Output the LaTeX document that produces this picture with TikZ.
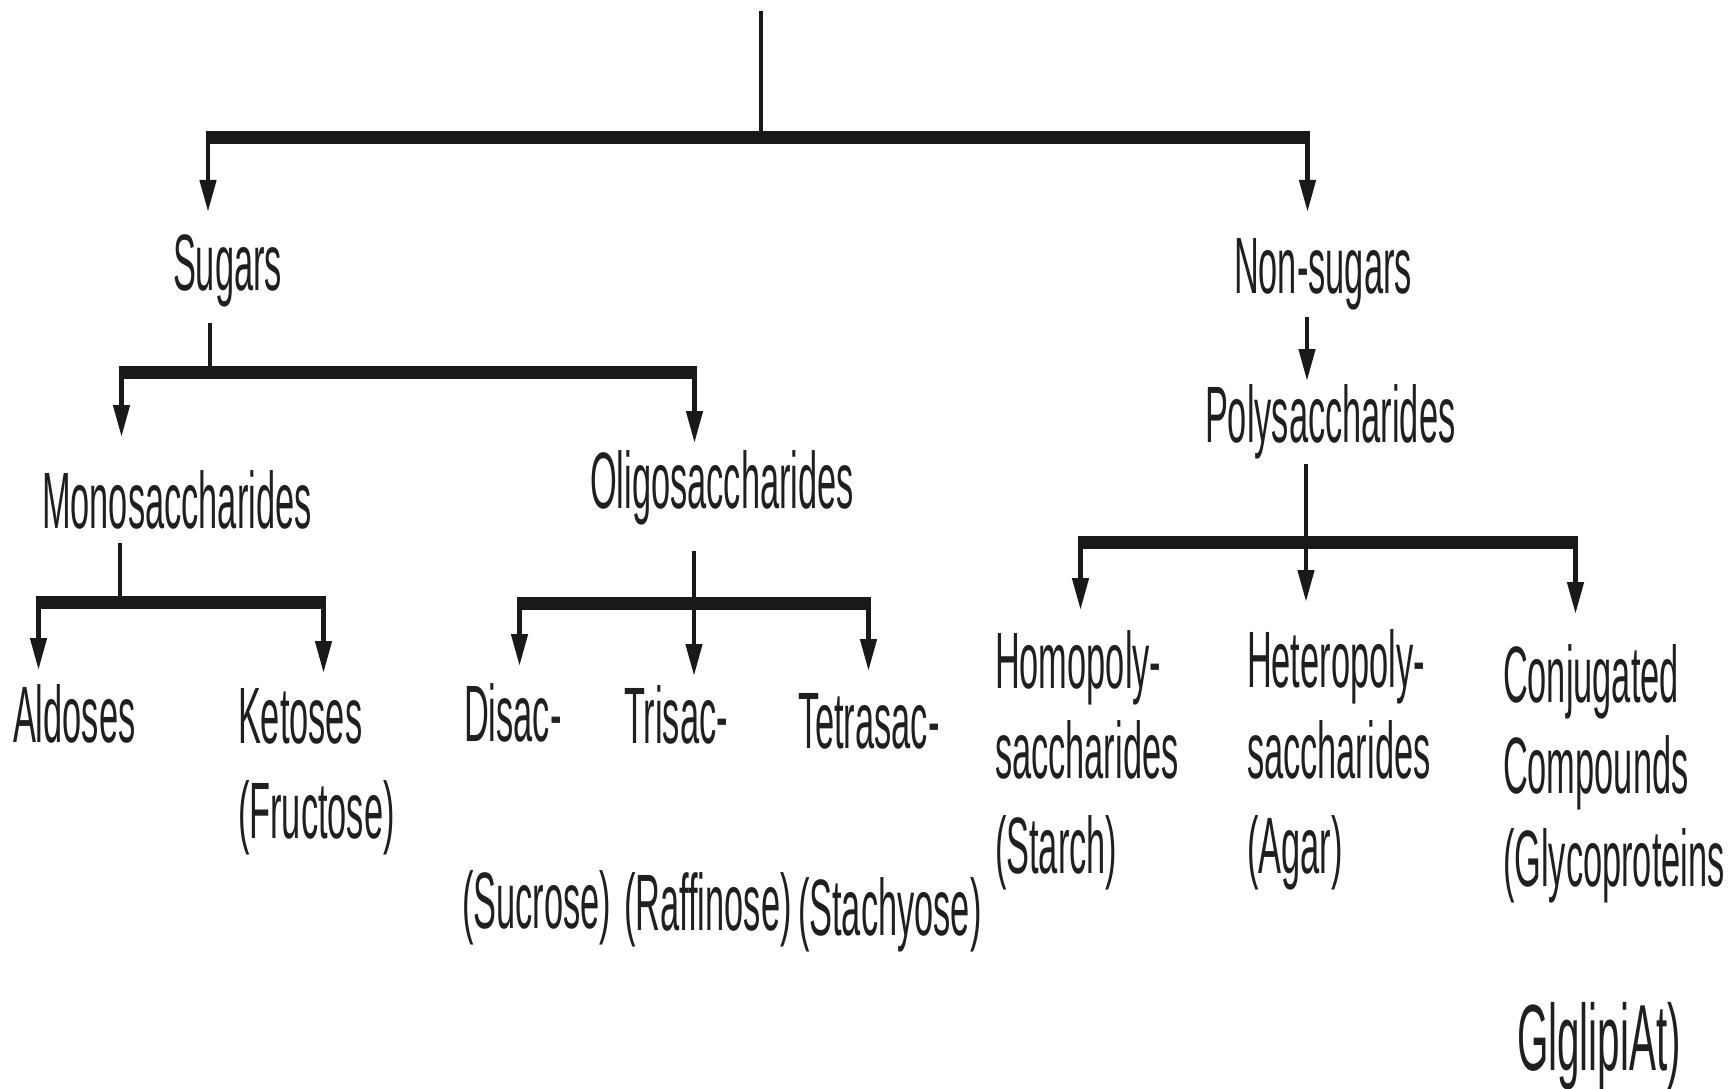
\documentclass[tikz,border=0pt]{standalone}
\usepackage{fontspec}
\setmainfont{Liberation Sans}[FakeStretch=0.43]
\usetikzlibrary{arrows.meta}
\begin{document}
\begin{tikzpicture}[x=1pt,y=-1pt,
  lbl/.style={anchor=base west,inner sep=0pt,outer sep=0pt,font=\fontsize{80}{90}\selectfont,text=black!88},
  stem/.style={line width=4.5pt,draw=black!90},
  hbar/.style={line width=13pt,draw=black!90},
  arr/.style={stem,-{Triangle[length=32pt,width=16pt]}},
]
\useasboundingbox (0,0) rectangle (1733,1089);

% labels
\node[lbl] (sugars) at (173,290) {Sugars};
\node[lbl] (nonsugars) at (1234,293) {Non-sugars};
\node[lbl] (poly) at (1205,442) {Polysaccharides};
\node[lbl] (mono) at (42,528) {Monosaccharides};
\node[lbl] (oligo) at (590,508) {Oligosaccharides};
\node[lbl] (aldoses) at (13,742) {Aldoses};
\node[lbl] (ketoses) at (238,743) {Ketoses};
\node[lbl] (fructose) at (238,838) {(Fructose)};
\node[lbl] (disac) at (464,741) {Disac-};
\node[lbl] (trisac) at (624,743) {Trisac-};
\node[lbl] (tetrasac) at (798,748) {Tetrasac-};
\node[lbl] (sucrose) at (462,928) {(Sucrose)};
\node[lbl] (raffinose) at (624,930) {(Raffinose)};
\node[lbl] (stachyose) at (798,935) {(Stachyose)};
\node[lbl] (homoA) at (995,688) {Homopoly-};
\node[lbl] (homoB) at (995,778) {saccharides};
\node[lbl] (homoC) at (995,873) {(Starch)};
\node[lbl] (hetA) at (1247,687) {Heteropoly-};
\node[lbl] (hetB) at (1247,778) {saccharides};
\node[lbl] (hetC) at (1247,873) {(Agar)};
\node[lbl] (conjA) at (1503,702) {Conjugated};
\node[lbl] (conjB) at (1503,793) {Compounds};
\node[lbl] (conjC) at (1503,886) {(Glycoproteins};
\node[lbl,font=\fontsize{94}{100}\selectfont] (glgl) at (1517,1070) {GlglipiAt)};

% level 1
\coordinate (rootend) at (761,11);
\coordinate (j1) at (761,138);
\coordinate (b1l) at (206,138);
\coordinate (b1r) at (1310,138);
\coordinate (tipSug) at (208,212);
\coordinate (tipNon) at (1307.5,212);
\draw[stem] (rootend) -- (j1);
\draw[hbar] (b1l) -- (b1r);
\draw[arr] (tipSug |- j1) -- (tipSug);
\draw[arr] (tipNon |- j1) -- (tipNon);

% sugars branch
\coordinate (sugStemTop) at (210,323);
\coordinate (j2) at (210,372);
\coordinate (b2l) at (119,372);
\coordinate (b2r) at (697,372);
\coordinate (tipMono) at (121.5,437);
\coordinate (tipOligo) at (694.5,443);
\draw[stem] (sugStemTop) -- (j2);
\draw[hbar] (b2l) -- (b2r);
\draw[arr] (tipMono |- j2) -- (tipMono);
\draw[arr] (tipOligo |- j2) -- (tipOligo);

% monosaccharides branch
\coordinate (monoStemTop) at (120,543);
\coordinate (j3) at (120,602.5);
\coordinate (b3l) at (36,602.5);
\coordinate (b3r) at (326,602.5);
\coordinate (tipAld) at (38.5,670);
\coordinate (tipKet) at (323.5,673);
\draw[stem] (monoStemTop) -- (j3);
\draw[hbar] (b3l) -- (b3r);
\draw[arr] (tipAld |- j3) -- (tipAld);
\draw[arr] (tipKet |- j3) -- (tipKet);

% oligosaccharides branch
\coordinate (oliStemTop) at (694,551);
\coordinate (j4) at (694,603);
\coordinate (b4l) at (517,603);
\coordinate (b4r) at (871,603);
\coordinate (tipDi) at (519.5,666);
\coordinate (tipTri) at (694,676);
\coordinate (tipTetra) at (868.5,671);
\draw[stem] (oliStemTop) -- (j4);
\draw[hbar] (b4l) -- (b4r);
\draw[arr] (tipDi |- j4) -- (tipDi);
\draw[arr] (j4) -- (tipTri);
\draw[arr] (tipTetra |- j4) -- (tipTetra);

% non-sugars branch
\coordinate (nonStemTop) at (1307,317);
\coordinate (tipPoly) at (1307,381);
\draw[arr] (nonStemTop) -- (tipPoly);

% polysaccharides branch
\coordinate (polyStemTop) at (1306,464);
\coordinate (j5) at (1306,542.5);
\coordinate (b5l) at (1078,542.5);
\coordinate (b5r) at (1578,542.5);
\coordinate (tipHomo) at (1080.5,610);
\coordinate (tipHet) at (1306,602);
\coordinate (tipConj) at (1575.5,614);
\draw[stem] (polyStemTop) -- (j5);
\draw[hbar] (b5l) -- (b5r);
\draw[arr] (tipHomo |- j5) -- (tipHomo);
\draw[arr] (j5) -- (tipHet);
\draw[arr] (tipConj |- j5) -- (tipConj);
\end{tikzpicture}
\end{document}
